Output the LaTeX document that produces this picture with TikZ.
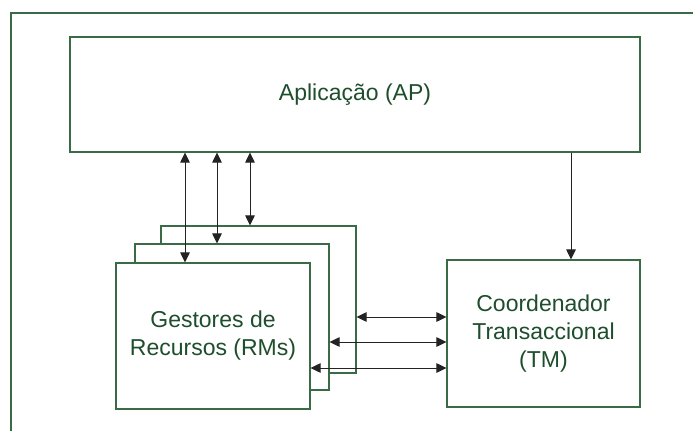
\documentclass[tikz,border=0pt]{standalone}
\usepackage{fontspec}
\setmainfont{Liberation Sans}
\usetikzlibrary{arrows.meta}
\definecolor{boxline}{RGB}{58,107,71}
\definecolor{txtgreen}{RGB}{30,78,44}
\definecolor{arrcol}{RGB}{35,35,35}
\begin{document}
\begin{tikzpicture}[x=1pt,y=-1pt,
  box/.style={draw=boxline,line width=1.1pt,fill=white,rectangle,inner sep=0pt,
    align=center,text=txtgreen,font=\fontsize{23}{28}\selectfont},
  biarr/.style={draw=arrcol,line width=1pt,{Triangle[length=10pt,width=9.5pt]}-{Triangle[length=10pt,width=9.5pt]}},
  onearr/.style={draw=arrcol,line width=1pt,-{Triangle[length=10pt,width=9.5pt]}}]
\useasboundingbox (0,0) rectangle (693,431);
% outer frame (partially visible)
\coordinate (fbl) at (11,431);
\coordinate (ftl) at (11,13);
\coordinate (ftr) at (693,13);
\draw[boxline,line width=1.1pt] (fbl) -- (ftl) -- (ftr);
% boxes
\node[box,minimum width=570pt,minimum height=115pt] (AP) at (355,94.5) {Aplicação (AP)};
\node[box,minimum width=195pt,minimum height=147pt] (back) at (258.5,299.5) {};
\node[box,minimum width=194pt,minimum height=146pt] (mid) at (232,317) {};
\node[box,minimum width=194pt,minimum height=146pt] (front) at (213,336) {Gestores de\\Recursos (RMs)};
\node[box,minimum width=193pt,minimum height=147pt] (TM) at (543.5,333.5) {Coordenador\\Transaccional\\(TM)};
% helper coordinates for connector positions
\coordinate (v1) at (185,0);
\coordinate (v2) at (217,0);
\coordinate (v3) at (250,0);
\coordinate (v4) at (571,0);
\coordinate (h1) at (0,317);
\coordinate (h2) at (0,342);
\coordinate (h3) at (0,368);
% vertical connectors
\draw[biarr] (AP.south -| v1) -- (front.north -| v1);
\draw[biarr] (AP.south -| v2) -- (mid.north -| v2);
\draw[biarr] (AP.south -| v3) -- (back.north -| v3);
\draw[onearr] (AP.south -| v4) -- (TM.north -| v4);
% horizontal connectors
\draw[biarr] (back.east |- h1) -- (TM.west |- h1);
\draw[biarr] (mid.east |- h2) -- (TM.west |- h2);
\draw[biarr] (front.east |- h3) -- (TM.west |- h3);
\end{tikzpicture}
\end{document}
